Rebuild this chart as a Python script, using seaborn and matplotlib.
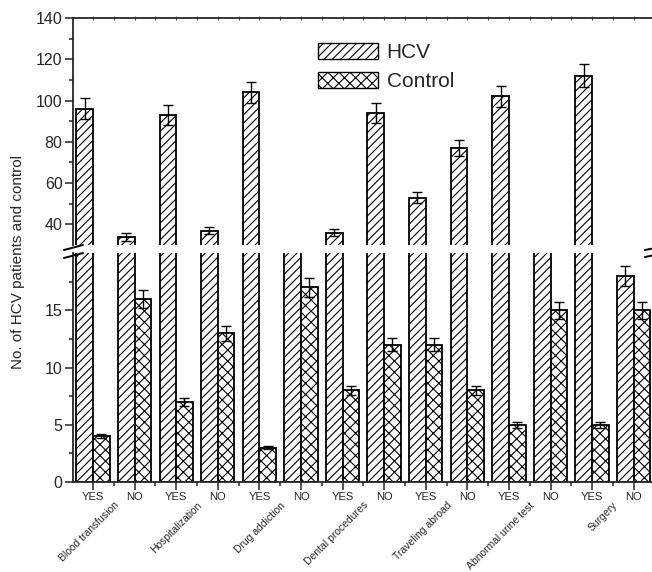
import matplotlib
matplotlib.use("Agg")
import matplotlib.pyplot as plt
from matplotlib.patches import Patch
from matplotlib.ticker import FixedLocator
import pandas as pd
import seaborn as sns

factors = ["Blood transfusion", "Hospitalization", "Drug addiction", "Dental procedures",
           "Traveling abroad", "Abnormal urine test", "Surgery"]
answers = ["YES", "NO"]
hcv_counts = [96, 34, 93, 37, 104, 26, 36, 94, 53, 77, 102, 28, 112, 18]
hcv_err = [5.0, 2.0, 4.7, 1.8, 5.2, 1.0, 1.8, 4.7, 2.7, 3.9, 5.1, 1.0, 5.6, 0.9]
control_counts = [4, 16, 7, 13, 3, 17, 8, 12, 12, 8, 5, 15, 5, 15]
control_err = [0.2, 0.8, 0.35, 0.65, 0.15, 0.85, 0.4, 0.6, 0.6, 0.4, 0.25, 0.75, 0.25, 0.75]
groups = ["HCV", "Control"]
hatches = {"HCV": "////", "Control": "xxx"}

items = [f"{f} {a}" for f in factors for a in answers]
tick_labels = [a for f in factors for a in answers]

df = pd.DataFrame({
    "item": items * 2,
    "group": ["HCV"] * len(items) + ["Control"] * len(items),
    "count": hcv_counts + control_counts,
    "err": hcv_err + control_err,
})

sns.set_theme(style="ticks")
plt.rcParams["font.family"] = ["Liberation Sans", "DejaVu Sans"]
plt.rcParams["hatch.linewidth"] = 0.8
plt.rcParams["axes.linewidth"] = 1.3

W, H = 652, 572
fig = plt.figure(figsize=(W / 100, H / 100), dpi=100)
left, right = 73 / W, 1.0
ax_top = fig.add_axes([left, 1 - 245 / H, right - left, (245 - 18) / H])
ax_low = fig.add_axes([left, 1 - 482 / H, right - left, (482 - 253) / H])


def draw(ax):
    sns.barplot(data=df, x="item", y="count", hue="group", order=items, hue_order=groups,
                palette={"HCV": "white", "Control": "white"}, saturation=1,
                edgecolor="black", linewidth=1.3, errorbar=None, legend=False, ax=ax)
    n = len(items)
    for k, g in enumerate(groups):
        bars = sorted(ax.patches[k * n:(k + 1) * n], key=lambda p: p.get_x())
        for p in bars:
            p.set_hatch(hatches[g])
        sub = df[df["group"] == g]
        xs = [p.get_x() + p.get_width() / 2 for p in bars]
        ax.errorbar(xs, sub["count"].values, yerr=sub["err"].values, fmt="none",
                    ecolor="black", elinewidth=1, capsize=3.6, capthick=1)
    ax.set_xlim(-0.48, 13.44)
    ax.set_xlabel("")
    ax.set_ylabel("")
    ax.spines["right"].set_visible(False)


draw(ax_top)
draw(ax_low)

ax_top.set_ylim(30, 140)
ax_low.set_ylim(0, 20)

ax_top.spines["bottom"].set_visible(False)
ax_low.spines["top"].set_visible(False)

ax_top.yaxis.set_major_locator(FixedLocator([40, 60, 80, 100, 120, 140]))
ax_top.yaxis.set_minor_locator(FixedLocator([50, 70, 90, 110, 130]))
ax_low.yaxis.set_major_locator(FixedLocator([0, 5, 10, 15]))
ax_low.yaxis.set_minor_locator(FixedLocator([2.5, 7.5, 12.5, 17.5]))

for ax in (ax_top, ax_low):
    ax.tick_params(axis="y", which="major", direction="out", length=5.5, width=1.1,
                   labelsize=11.5, pad=2)
    ax.tick_params(axis="y", which="minor", direction="out", length=3, width=1.1)

ax_top.set_xticks(range(len(items)))
ax_top.set_xticks([i + 0.5 for i in range(len(items) - 1)], minor=True)
ax_top.tick_params(axis="x", which="both", top=True, bottom=False, labeltop=False,
                   labelbottom=False, direction="inout", length=3, width=0.8, color="0.35")

ax_low.set_xticks(range(len(items)))
ax_low.set_xticklabels(tick_labels)
ax_low.set_xticks([i + 0.5 for i in range(len(items) - 1)], minor=True)
ax_low.tick_params(axis="x", which="major", direction="out", length=6, width=1.1,
                   labelsize=8, pad=1)
ax_low.tick_params(axis="x", which="minor", direction="out", length=3, width=1.1)

xform = ax_low.get_xaxis_transform()
for j, f in enumerate(factors):
    ax_low.text(2 * j + 0.5 + 0.08, -0.095, f, transform=xform, rotation=45,
                rotation_mode="anchor", ha="right", va="center", fontsize=7.5)

fig.text(18 / W, 1 - 262 / H, "No. of HCV patients and control", rotation=90,
         ha="center", va="center", fontsize=11)

# break marks
def brk(x0, x1, y0, y1):
    fig.add_artist(plt.Line2D([x0 / W, x1 / W], [1 - y0 / H, 1 - y1 / H],
                              color="black", lw=1.4))

brk(64, 83, 250, 245)
brk(64, 83, 258, 253)
brk(645, 665, 250, 246)
brk(645, 665, 257, 253)

handles = [Patch(facecolor="white", edgecolor="black", hatch=hatches[g], label=g) for g in groups]
ax_top.legend(handles=handles, loc="upper left", bbox_to_anchor=(318 / W, 1 - 43 / H),
              bbox_transform=fig.transFigure, frameon=False, fontsize=15, borderpad=0,
              borderaxespad=0, handlelength=2.9, handleheight=0.8, handletextpad=0.4,
              labelspacing=0.45)

fig.savefig("out.png", dpi=100)
